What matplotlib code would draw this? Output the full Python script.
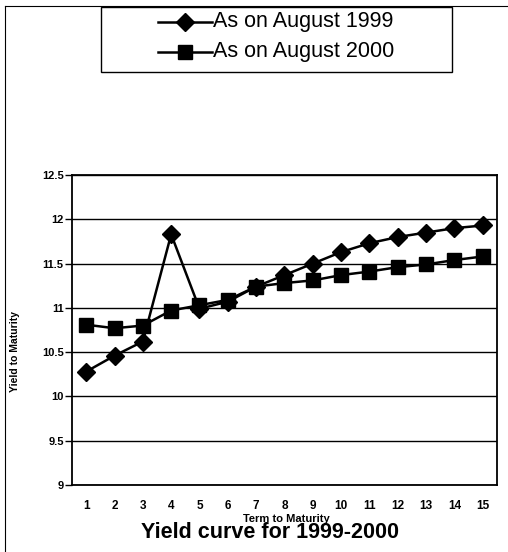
import matplotlib
matplotlib.use("Agg")
import matplotlib.pyplot as plt
from matplotlib.lines import Line2D
from matplotlib.patches import Rectangle

plt.rcParams['font.family'] = ['Liberation Sans', 'DejaVu Sans']

terms = list(range(1, 16))
yield_1999 = [10.28, 10.46, 10.62, 11.83, 10.99, 11.07, 11.24, 11.37, 11.5, 11.63,
              11.73, 11.8, 11.85, 11.9, 11.93]
yield_2000 = [10.81, 10.77, 10.8, 10.97, 11.03, 11.09, 11.24, 11.28, 11.31, 11.37,
              11.41, 11.46, 11.49, 11.54, 11.58]
y_ticks = [9, 9.5, 10, 10.5, 11, 11.5, 12, 12.5]
y_tick_labels = ['9', '9.5', '10', '10.5', '11', '11.5', '12', '12.5']
series_names = ['As on August 1999', 'As on August 2000']
series_markers = ['D', 's']

W, H = 508, 552


def fx(px):
    return px / W


def fy(py):
    return 1 - py / H


fig = plt.figure(figsize=(W / 100, H / 100), dpi=100)
ax = fig.add_axes([fx(72), fy(485), (497 - 72) / W, (485 - 175) / H])

ax.plot(terms, yield_1999, color='black', lw=1.8, marker='D', ms=9, zorder=3)
ax.plot(terms, yield_2000, color='black', lw=1.8, marker='s', ms=10, zorder=3)

ax.set_xlim(0.5, 15.5)
ax.set_ylim(9, 12.5)
ax.set_yticks(y_ticks)
ax.set_yticklabels(y_tick_labels, fontsize=8, fontweight='bold')
ax.set_xticks(terms)
ax.set_xticklabels([str(t) for t in terms], fontsize=8.5, fontweight='bold')
ax.tick_params(axis='x', length=0, pad=11)
ax.tick_params(axis='y', length=5, width=1, pad=1)
ax.grid(axis='y', color='black', lw=1)
ax.set_axisbelow(True)
for s in ax.spines.values():
    s.set_linewidth(1.3)

# axis titles and chart title
fig.text(fx(15), fy(352), 'Yield to Maturity', rotation=90, ha='center', va='center',
         fontsize=7.5, fontweight='bold')
fig.text(fx(286), fy(519), 'Term to Maturity', ha='center', va='center',
         fontsize=8, fontweight='bold')
fig.text(fx(270), fy(533), 'Yield curve for 1999-2000', ha='center', va='center',
         fontsize=15.5, fontweight='bold')

# legend box at the top
fig.add_artist(Rectangle((fx(101), fy(72)), (452 - 101) / W, (72 - 7) / H,
                         transform=fig.transFigure, fill=False, edgecolor='black', lw=1))
row_y = [22, 52]
for name, mk, ry in zip(series_names, series_markers, row_y):
    fig.add_artist(Line2D([fx(158), fx(212)], [fy(ry), fy(ry)], color='black', lw=1.8))
    fig.add_artist(Line2D([fx(185)], [fy(ry)], color='black', marker=mk,
                          ms=9 if mk == 'D' else 10))
    fig.text(fx(213), fy(ry), name, ha='left', va='center', fontsize=15.5)

# outer frame bits
fig.add_artist(Line2D([fx(5), fx(5)], [0, fy(6)], color='black', lw=0.8))
fig.add_artist(Line2D([fx(5), 1], [fy(6), fy(6)], color='black', lw=0.8))

fig.savefig('out.png', dpi=100)
